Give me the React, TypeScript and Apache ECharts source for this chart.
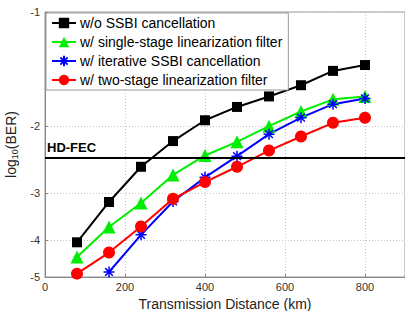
import React, { useEffect, useRef } from "react";
import * as echarts from "echarts";

const distances = [80, 160, 240, 320, 400, 480, 560, 640, 720, 800];
const woSSBI = [-4.05, -3.17, -2.56, -2.19, -1.93, -1.78, -1.67, -1.56, -1.43, -1.38];
const singleStage = [-4.43, -3.69, -3.19, -2.69, -2.39, -2.2, -2.0, -1.83, -1.7, -1.67];
const iterative = [null, -4.85, -3.87, -3.16, -2.73, -2.4, -2.1, -1.9, -1.75, -1.69];
const twoStage = [-4.9, -4.31, -3.68, -3.11, -2.81, -2.56, -2.32, -2.13, -1.96, -1.9];
const yTicks = [-1, -2, -3, -4, -5];
const xTicks = [0, 200, 400, 600, 800];
const hdFec = -2.42;

const seriesNames = [
  "w/o SSBI cancellation",
  "w/ single-stage linearization filter",
  "w/ iterative SSBI cancellation",
  "w/ two-stage linearization filter",
];

const FONT = "Liberation Sans, Arial, sans-serif";

// axis is log scale of -log10(BER), inverted
const toAxis = (v: number | null) => (v === null ? null : -v);

const starPath =
  "path://M5,0L5,10M0,5L10,5M1.5,1.5L8.5,8.5M1.5,8.5L8.5,1.5";

export default function App() {
  const ref = useRef<HTMLDivElement>(null);
  useEffect(() => {
    if (!ref.current) return;
    const chart = echarts.init(ref.current, null, { renderer: "svg" });
    const mk = (vals: (number | null)[]) =>
      distances.map((d, i) => [d, toAxis(vals[i])]);
    const yCustom = yTicks.map((v) => -v);
    const gridLine = { show: true, lineStyle: { color: "#c4c4c4", type: [1, 2], width: 1 } };
    const tick = { show: true, inside: true, length: 3, lineStyle: { color: "#888" } };
    chart.setOption({
      animation: false,
      textStyle: { fontFamily: FONT },
      grid: {
        left: 45,
        right: 0,
        top: 12,
        bottom: 34,
        containLabel: false,
        outerBoundsMode: "none",
        show: true,
        borderColor: "#999",
        borderWidth: 1,
        backgroundColor: "transparent",
      },
      legend: {
        left: 46,
        top: 13,
        orient: "vertical",
        backgroundColor: "#fff",
        borderColor: "#999",
        borderWidth: 1,
        padding: [3, 6, 3, 5],
        itemGap: 5,
        itemWidth: 24,
        itemHeight: 13,
        textStyle: { fontSize: 14, color: "#000", fontFamily: FONT, padding: [0, 0, 0, -1] },
        data: seriesNames,
      },
      xAxis: {
        type: "value",
        min: 0,
        max: 900,
        interval: 200,
        name: "Transmission Distance (km)",
        nameLocation: "middle",
        nameGap: 18,
        nameTextStyle: { fontSize: 14, color: "#222", fontFamily: FONT },
        axisLine: { show: true, lineStyle: { color: "#888" } },
        axisTick: { ...tick, customValues: xTicks },
        axisLabel: {
          fontSize: 11,
          color: "#333",
          margin: 4,
          customValues: xTicks,
        },
        splitLine: gridLine,
      },
      yAxis: {
        type: "log",
        logBase: 10,
        min: 1,
        max: 5,
        inverse: true,
        name: "{a|log}{b|10}{a|(BER)}",
        nameLocation: "middle",
        nameGap: 22,
        nameTextStyle: {
          rich: {
            a: { fontSize: 14, color: "#222", fontFamily: FONT },
            b: { fontSize: 9, color: "#222", fontFamily: FONT, verticalAlign: "bottom", padding: [8, 0, 0, 0] },
          },
        },
        axisLine: { show: true, lineStyle: { color: "#888" } },
        axisTick: { ...tick, customValues: yCustom },
        axisLabel: {
          fontSize: 11,
          color: "#333",
          margin: 5,
          customValues: yCustom,
          formatter: (v: number) => String(-Math.round(v)),
        },
        splitLine: gridLine,
      },
      series: [
        {
          name: seriesNames[0],
          type: "line",
          data: mk(woSSBI),
          color: "#000",
          symbol: "rect",
          symbolSize: 10,
          lineStyle: { width: 2 },
          markLine: {
            silent: true,
            symbol: "none",
            lineStyle: { color: "#000", width: 2, type: "solid" },
            label: {
              show: true,
              position: "insideStartTop",
              formatter: "HD-FEC",
              fontSize: 13,
              fontWeight: "bold",
              color: "#000",
              fontFamily: FONT,
              distance: [2, 4],
            },
            data: [{ yAxis: toAxis(hdFec) }],
          },
        },
        {
          name: seriesNames[1],
          type: "line",
          data: mk(singleStage),
          color: "#00ee00",
          symbol: "triangle",
          symbolSize: 13,
          lineStyle: { width: 2 },
        },
        {
          name: seriesNames[2],
          type: "line",
          data: mk(iterative),
          color: "#0000ff",
          symbol: starPath,
          symbolSize: 11,
          itemStyle: { borderColor: "#0000ff", borderWidth: 1.5 },
          lineStyle: { width: 2 },
        },
        {
          name: seriesNames[3],
          type: "line",
          data: mk(twoStage),
          color: "#ff0000",
          symbol: "circle",
          symbolSize: 12,
          lineStyle: { width: 2 },
        },
      ],
    });
    return () => chart.dispose();
  }, []);
  return <div ref={ref} style={{ width: 405, height: 311, position: "absolute", left: 0, top: 0 }} />;
}
